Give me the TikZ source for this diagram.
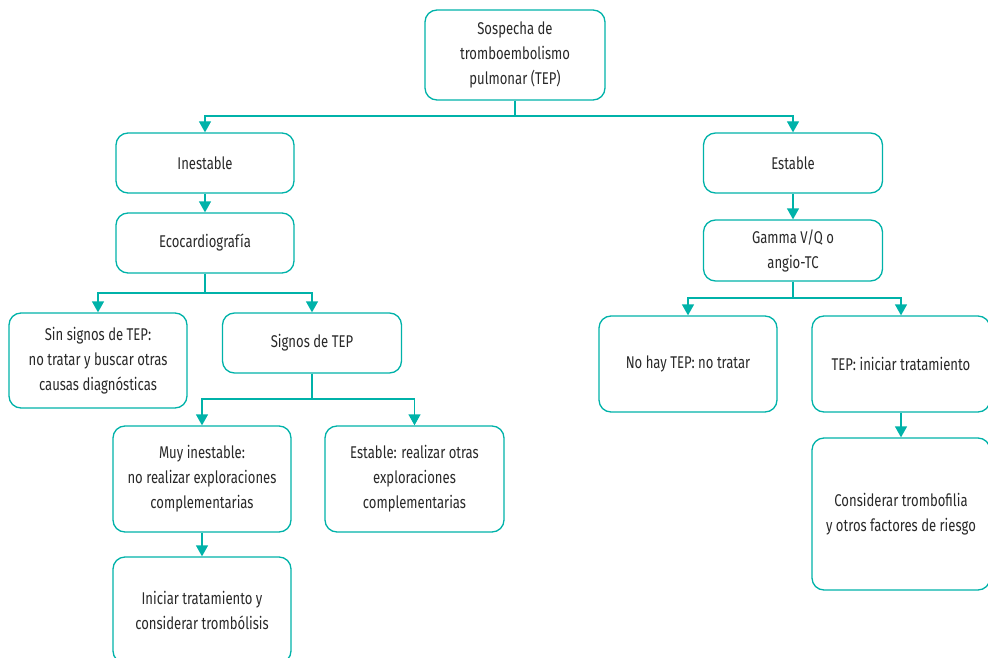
\documentclass[tikz,border=0pt]{standalone}
\usepackage{fontspec}
\setmainfont{Fira Sans}[FakeStretch=0.77]
\usetikzlibrary{arrows.meta}
\definecolor{teal1}{RGB}{0,178,169}
\definecolor{txt}{RGB}{40,40,40}
\tikzset{
  box/.style={draw=teal1, line width=1.3pt, rounded corners=12pt, align=center,
    text=txt, font=\fontsize{17}{25}\selectfont, inner sep=2pt},
  arr/.style={draw=teal1, line width=1.3pt, -{Triangle[width=12pt,length=11pt]}},
}
\begin{document}
\begin{tikzpicture}[x=1pt,y=-1pt]
\useasboundingbox (0,0) rectangle (988,658);
\clip (0,0) rectangle (988,658);
\node[box, minimum width=180pt, minimum height=90pt] (top) at (515,55) {Sospecha de\\tromboembolismo\\pulmonar (TEP)};
\node[box, minimum width=178pt, minimum height=60pt] (inest) at (205,163) {Inestable};
\node[box, minimum width=178pt, minimum height=60pt] (eco) at (205,243) {Ecocardiografía};
\node[box, minimum width=178pt, minimum height=95pt] (sin) at (98,360.5) {Sin signos de TEP:\\no tratar y buscar otras\\causas diagnósticas};
\node[box, minimum width=179pt, minimum height=60pt] (signos) at (312,343) {Signos de TEP};
\node[box, minimum width=178pt, minimum height=106pt] (muy) at (202,479) {Muy inestable:\\no realizar exploraciones\\complementarias};
\node[box, minimum width=179pt, minimum height=106pt] (estr) at (414.5,479) {Estable: realizar otras\\exploraciones\\complementarias};
\node[box, minimum width=178pt, minimum height=106pt] (inic) at (202,610) {Iniciar tratamiento y\\considerar trombólisis};
\node[box, minimum width=179pt, minimum height=60pt] (est) at (793,163) {Estable};
\node[box, minimum width=179pt, minimum height=61pt] (gamma) at (793,250.5) {Gamma V/Q o\\angio-TC};
\node[box, minimum width=178pt, minimum height=96pt] (nohay) at (688,364) {No hay TEP: no tratar};
\node[box, minimum width=178pt, minimum height=96pt] (tep) at (901,364) {TEP: iniciar tratamiento};
\node[box, minimum width=178pt, minimum height=152pt] (cons) at (901,514) {Considerar trombofilia\\y otros factores de riesgo};
% connectors
\draw[arr] (top.south) -- (top.south |- 0,116) -| (inest.north);
\draw[arr] (top.south) -- (top.south |- 0,116) -| (est.north);
\draw[arr] (inest) -- (eco);
\draw[arr] (eco.south) -- (eco.south |- 0,293) -| (sin.north -| 98,0);
\draw[arr] (eco.south) -- (eco.south |- 0,293) -| (signos.north);
\draw[arr] (signos.south) -- (signos.south |- 0,399) -| (muy.north);
\draw[arr] (signos.south) -- (signos.south |- 0,399) -| (estr.north);
\draw[arr] (muy) -- (inic);
\draw[arr] (est) -- (gamma);
\draw[arr] (gamma.south) -- (gamma.south |- 0,298) -| (nohay.north);
\draw[arr] (gamma.south) -- (gamma.south |- 0,298) -| (tep.north);
\draw[arr] (tep) -- (cons);
\end{tikzpicture}
\end{document}
